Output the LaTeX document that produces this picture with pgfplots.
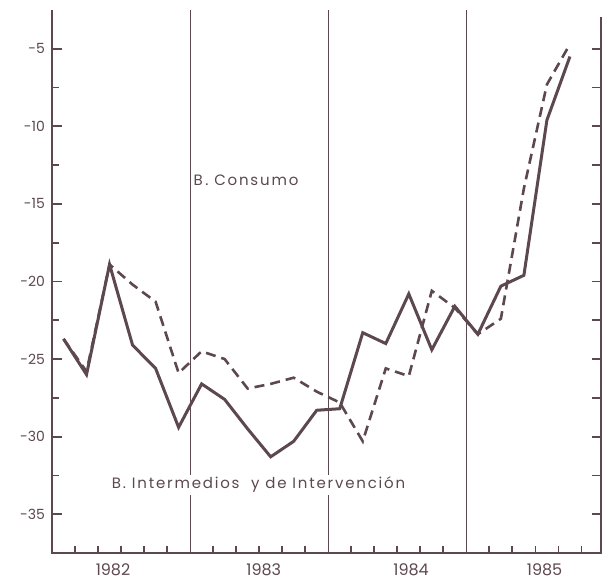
\documentclass[border=0pt]{standalone}
\usepackage{fontspec}
\setmainfont{Poppins}
\newfontfamily\spaced[LetterSpace=12]{Poppins}
\usepackage{pgfplots}
\pgfplotsset{compat=1.18}
\usepackage{pgfplotstable}

\definecolor{ink}{RGB}{92,72,78}

% bimonthly values, plotted at the middle of each two-month period
\pgfplotstableread{
x    consumo  intermedios
0.5  -23.7  -23.7
1.5  -26.0  -25.8
2.5  -18.9  -18.9
3.5  -24.1  -20.2
4.5  -25.6  -21.3
5.5  -29.4  -25.9
6.5  -26.6  -24.5
7.5  -27.6  -25.0
8.5  -29.5  -26.9
9.5  -31.3  -26.6
10.5 -30.3  -26.2
11.5 -28.3  -27.1
12.5 -28.2  -27.8
13.5 -23.3  -30.3
14.5 -24.0  -25.6
15.5 -20.8  -26.1
16.5 -24.4  -20.6
17.5 -21.6  -21.7
18.5 -23.4  -23.4
19.5 -20.3  -22.4
20.5 -19.6  -14.0
21.5 -9.6   -7.3
22.5 -5.5   -4.7
}\datatab

\begin{document}
\begin{tikzpicture}
\begin{axis}[
    scale only axis,
    width=274.5pt, height=271.5pt,
    xmin=0, xmax=23.85,
    ymin=-37.5, ymax=-2.5,
    axis line style={draw=none},
    tick align=inside,
    xtick pos=left, ytick pos=left,
    ytick={-35,-30,-25,-20,-15,-10,-5},
    yticklabels={-35,-30,-25,-20,-15,-10,-5},
    minor ytick={-32.5,-27.5,-22.5,-17.5,-12.5,-7.5},
    xtick={2.65,9.2,15.6,21.4},
    xticklabels={1982,1983,1984,1985},
    minor xtick={1,2,3,4,5,7,8,9,10,11,13,14,15,16,17,19,20,21,22,23},
    major x tick style={draw=none},
    major tick length=5pt, minor tick length=3.5pt,
    every tick/.style={ink, line width=0.9pt},
    extra x ticks={6,12,18},
    extra x tick labels={},
    extra x tick style={grid=major},
    major grid style={ink, line width=0.6pt},
    yticklabel style={font=\fontsize{7}{8}\selectfont, text=ink},
    xticklabel style={font=\fontsize{8}{9}\selectfont, text=ink, yshift=-2pt},
    clip=false,
]
\addplot[ink, line width=1.5pt] table[x=x, y=consumo] {\datatab};
\addplot[ink, line width=1.3pt, dash pattern=on 5pt off 3pt] table[x=x, y=intermedios] {\datatab};

% frame: left, bottom and right, no top
\draw[ink, line width=1.2pt] (rel axis cs:0,1) -- (rel axis cs:0,0)
  -- (rel axis cs:1,0) -- (rel axis cs:1,0.987);
% ticks on the inner side of the right frame line, every 2.5 units
\pgfplotsinvokeforeach{1,...,13}{
  \draw[ink, line width=0.9pt] (rel axis cs:1,#1/14) -- (rel axis cs:0.984,#1/14);
}

\node[anchor=west, fill=white, inner sep=1pt, text=ink, font=\spaced\fontsize{7.5}{9}\selectfont]
  at (axis cs:6.05,-13.5) {B\,.\ Consumo};
\node[anchor=west, fill=white, inner sep=1pt, text=ink, font=\spaced\fontsize{7.5}{9}\selectfont]
  at (axis cs:2.5,-33.1) {B. Intermedios\ \ y de Intervención};

\coordinate (bl) at (rel axis cs:0,0);
\coordinate (tr) at (rel axis cs:1,1);
\end{axis}
\path ([shift={(-26pt,-15.5pt)}]bl) rectangle ([shift={(4pt,5pt)}]tr);
\end{tikzpicture}
\end{document}
